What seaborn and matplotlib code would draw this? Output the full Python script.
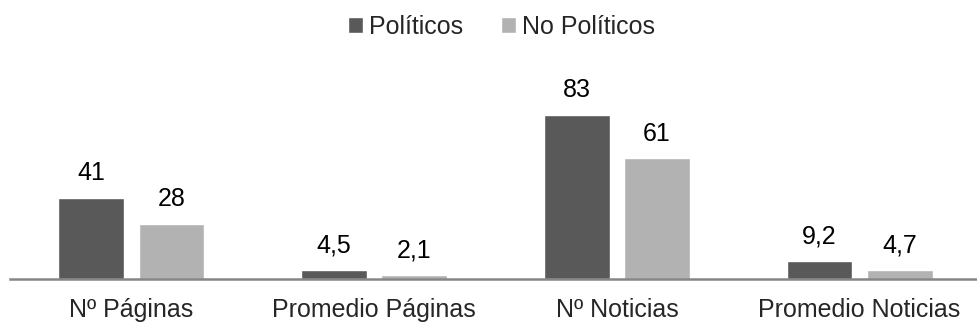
import matplotlib
matplotlib.use("Agg")
import matplotlib.pyplot as plt
import seaborn as sns
import pandas as pd

# Data
categorias = ["Nº Páginas", "Promedio Páginas", "Nº Noticias", "Promedio Noticias"]
politicos = [41, 4.5, 83, 9.2]
no_politicos = [28, 2.1, 61, 4.7]
etiquetas_pol = ["41", "4,5", "83", "9,2"]
etiquetas_nopol = ["28", "2,1", "61", "4,7"]
series = ["Políticos", "No Políticos"]

df = pd.DataFrame({
    "categoria": categorias * 2,
    "valor": politicos + no_politicos,
    "serie": [series[0]] * 4 + [series[1]] * 4,
    "etiqueta": etiquetas_pol + etiquetas_nopol,
})

sns.set_style("white")
plt.rcParams["font.family"] = ["Liberation Sans", "DejaVu Sans"]

fig = plt.figure(figsize=(9.78, 3.27), dpi=100)
ax = fig.add_axes([10 / 978, 48 / 327, 971 / 978, 219 / 327])

sns.barplot(data=df, x="categoria", y="valor", hue="serie",
            palette=["#595959", "#b2b2b2"], width=0.662, gap=0.18,
            order=categorias, hue_order=series, ax=ax, legend=True)

for cont, serie in zip(ax.containers, series):
    labs = df[df["serie"] == serie]["etiqueta"].tolist()
    ax.bar_label(cont, labels=labs, padding=9, fontsize=18, color="#000000")

ax.set_xlim(-0.5, 3.5)
ax.set_ylim(0, 110.8)
ax.set_xlabel("")
ax.set_ylabel("")
ax.set_yticks([])
ax.tick_params(axis="x", length=0, labelsize=18, pad=14)
for s in ["top", "right", "left"]:
    ax.spines[s].set_visible(False)
ax.spines["bottom"].set_color("#868686")
ax.spines["bottom"].set_linewidth(1.8)

leg = ax.legend(loc="upper center", bbox_to_anchor=(0.5 + 6 / 971, 1 + 68 / 219),
                ncol=2, frameon=False, fontsize=18, handlelength=0.6, handleheight=0.6,
                handletextpad=0.25, columnspacing=1.5)

plt.savefig("out.png", dpi=100)
